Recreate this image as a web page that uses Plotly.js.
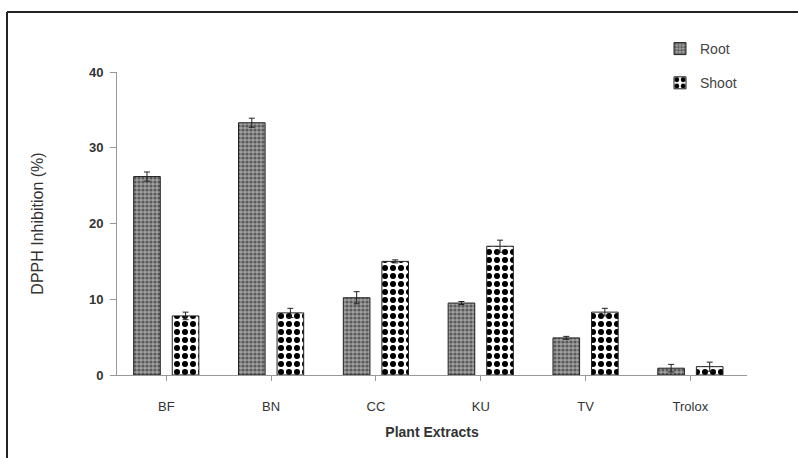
<!DOCTYPE html>
<html>
<head>
<meta charset="utf-8">
<script src="https://cdn.plot.ly/plotly-3.0.1.min.js"></script>
<style>html,body{margin:0;padding:0;background:#fff;overflow:hidden}#chart{width:798px;height:458px}</style>
</head>
<body>
<div id="chart"></div>
<script>
const categories = ["BF", "BN", "CC", "KU", "TV", "Trolox"];
const rootValues = [26.2, 33.3, 10.2, 9.5, 4.9, 0.9];
const rootErrors = [0.6, 0.6, 0.8, 0.2, 0.2, 0.5];
const shootValues = [7.8, 8.2, 15.0, 17.0, 8.3, 1.1];
const shootErrors = [0.5, 0.6, 0.2, 0.8, 0.5, 0.6];
const yTicks = [0, 10, 20, 30, 40];

const traces = [
  {
    type: "bar", name: "Root", x: categories, y: rootValues, legendgroup: "r",
    error_y: {type: "data", array: rootErrors, visible: true, color: "#222", thickness: 1, width: 3},
    marker: {color: "#888", line: {color: "#222", width: 1},
      pattern: {shape: ".", fgcolor: "#111", bgcolor: "#a0a0a0", size: 4, solidity: 0.5, fillmode: "overlay"}}
  },
  {
    type: "bar", name: "Shoot", x: categories, y: shootValues, legendgroup: "s",
    error_y: {type: "data", array: shootErrors, visible: true, color: "#222", thickness: 1, width: 3},
    marker: {color: "#fff", line: {color: "#222", width: 1},
      pattern: {shape: ".", fgcolor: "#000", bgcolor: "#fff", fgopacity: 1, size: 8, solidity: 0.45, fillmode: "overlay"}}
  }
];

const pxX = p => (p - 117) / 630;
const pxY = p => (375 - p) / 303;

const layout = {
  width: 798, height: 458,
  margin: {l: 117, r: 51, t: 72, b: 83},
  paper_bgcolor: "#fff", plot_bgcolor: "#fff",
  font: {family: "Liberation Sans, Arial, sans-serif", color: "#333"},
  barmode: "group", bargap: 0.264, bargroupgap: 0.31,
  showlegend: true,
  legend: {x: pxX(660), y: pxY(33), xanchor: "left", yanchor: "top",
    font: {size: 14, color: "#444"}, traceorder: "grouped", tracegroupgap: 13, bgcolor: "rgba(0,0,0,0)"},
  xaxis: {
    type: "category", range: [-0.47, 5.54], showgrid: false, zeroline: false,
    showline: true, linecolor: "#999", linewidth: 1,
    ticks: "outside", ticklen: 5, tickcolor: "#999", ticklabelstandoff: 14,
    tickfont: {family: "Liberation Sans Narrow, Liberation Sans, Arial, sans-serif", size: 13, color: "#333"},
    title: {text: "<b>Plant Extracts</b>", font: {size: 14, color: "#333"}, standoff: 14}
  },
  yaxis: {
    range: [0, 40], tickvals: yTicks, ticktext: yTicks.map(v => "<b>" + v + "</b>"),
    showgrid: false, zeroline: false,
    showline: true, linecolor: "#999", linewidth: 1,
    ticks: "outside", ticklen: 6, tickcolor: "#999", ticklabelstandoff: 4,
    tickfont: {size: 13, color: "#333"},
    title: {text: "DPPH Inhibition (%)", font: {size: 16, color: "#333"}, standoff: 41}
  },
  shapes: [
    {type: "line", xref: "paper", yref: "paper", x0: pxX(7), x1: pxX(800), y0: pxY(12), y1: pxY(12), line: {color: "#222", width: 2}},
    {type: "line", xref: "paper", yref: "paper", x0: pxX(7), x1: pxX(7), y0: pxY(12), y1: pxY(470), line: {color: "#222", width: 2}}
  ]
};

Plotly.newPlot("chart", traces, layout, {displayModeBar: false, staticPlot: true});
</script>
</body>
</html>
